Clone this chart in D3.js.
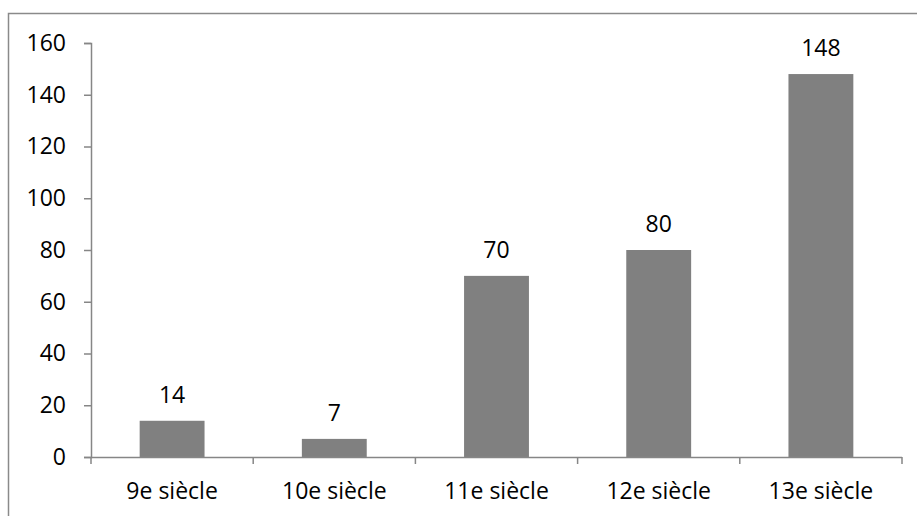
<!DOCTYPE html>
<html>
<head>
<meta charset="utf-8">
<script src="https://cdn.jsdelivr.net/npm/d3@7"></script>
<style>
  html, body { margin: 0; padding: 0; background: #fff; }
  svg { display: block; }
  text { font-family: "Open Sans", "Liberation Sans", sans-serif; fill: #000; }
</style>
</head>
<body>
<svg></svg>
<script>
const categories = ['9e siècle', '10e siècle', '11e siècle', '12e siècle', '13e siècle'];
const values = [14, 7, 70, 80, 148];
const yTicks = [0, 20, 40, 60, 80, 100, 120, 140, 160];

const [svgWidth, svgHeight] = [917, 516];
const margin = { top: 43, right: 15, bottom: 59, left: 91 };
const [chartWidth, chartHeight] = [svgWidth - margin.left - margin.right, svgHeight - margin.top - margin.bottom];
const fontSize = 23;

const svg = d3.select('svg')
    .attr('width', svgWidth)
    .attr('height', svgHeight);

// outer frame (right and bottom edges fall outside the picture)
svg.append('rect')
    .attr('x', 8.5)
    .attr('y', 13.5)
    .attr('width', 920)
    .attr('height', 520)
    .attr('fill', 'none')
    .attr('stroke', '#8a8a8a')
    .attr('stroke-width', 1.5);

const xScale = d3.scaleBand()
    .domain(categories)
    .range([0, chartWidth])
    .paddingInner(0.6)
    .paddingOuter(0.3);

const yScale = d3.scaleLinear()
    .domain([0, 160])
    .range([chartHeight, 0]);

const g = svg.append('g')
    .attr('transform', `translate(${[margin.left, margin.top]})`);

// y axis
const yAxis = g.append('g')
    .call(d3.axisLeft(yScale).tickValues(yTicks).tickSize(7).tickPadding(18));
yAxis.selectAll('text').attr('font-size', fontSize);

// bars
g.selectAll('rect.bar')
    .data(values)
    .join('rect')
    .attr('class', 'bar')
    .attr('x', (d, i) => xScale(categories[i]))
    .attr('y', d => yScale(d))
    .attr('width', xScale.bandwidth())
    .attr('height', d => chartHeight - yScale(d))
    .attr('fill', '#808080');

// value labels
g.selectAll('text.value')
    .data(values)
    .join('text')
    .attr('class', 'value')
    .attr('x', (d, i) => xScale(categories[i]) + xScale.bandwidth() / 2)
    .attr('y', d => yScale(d) - 18)
    .attr('text-anchor', 'middle')
    .attr('font-size', fontSize)
    .text(d => d);

// x axis: ticks sit on category boundaries
const step = xScale.step();
const xAxis = g.append('g')
    .attr('transform', `translate(0,${chartHeight})`);
xAxis.append('line')
    .attr('x1', 0).attr('x2', chartWidth)
    .attr('y1', 0.5).attr('y2', 0.5)
    .attr('stroke', '#868686').attr('stroke-width', 1.5);
xAxis.selectAll('line.tick')
    .data(d3.range(categories.length + 1))
    .join('line')
    .attr('class', 'tick')
    .attr('x1', i => i * step).attr('x2', i => i * step)
    .attr('y1', 0).attr('y2', 7)
    .attr('stroke', '#868686').attr('stroke-width', 1.5);
xAxis.selectAll('text')
    .data(categories)
    .join('text')
    .attr('x', d => xScale(d) + xScale.bandwidth() / 2)
    .attr('y', 42)
    .attr('text-anchor', 'middle')
    .attr('font-size', fontSize)
    .text(d => d);

yAxis.select('.domain').attr('stroke', '#868686').attr('stroke-width', 1.5);
yAxis.selectAll('.tick line').attr('stroke', '#868686').attr('stroke-width', 1.5);
</script>
</body>
</html>
